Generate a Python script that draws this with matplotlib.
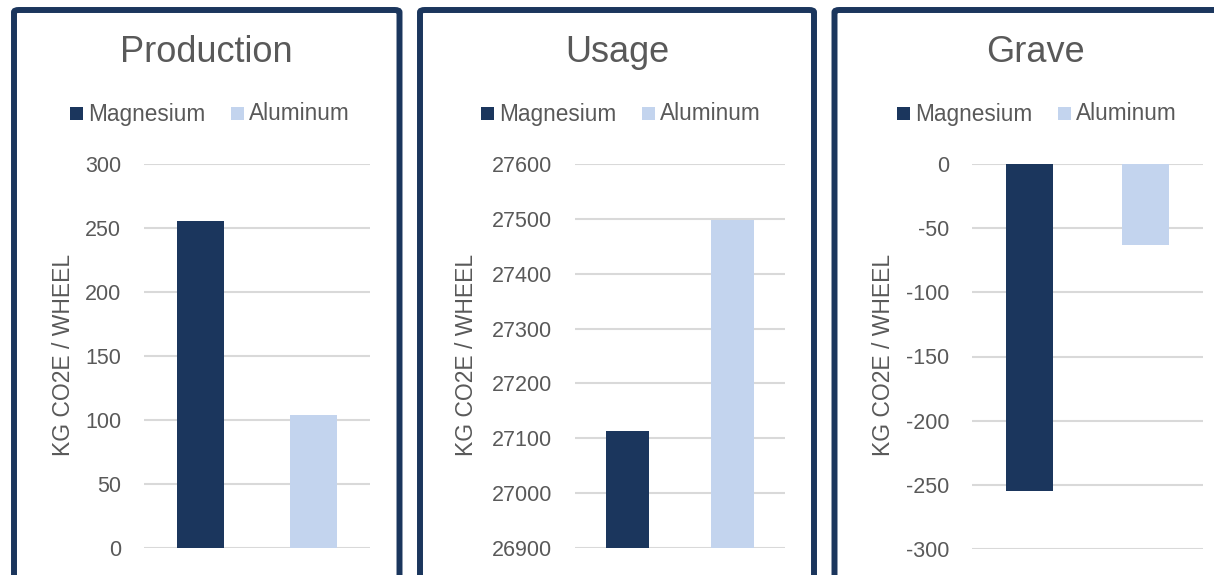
import matplotlib.pyplot as plt
from matplotlib.patches import FancyBboxPatch, Rectangle

plt.rcParams['font.family'] = ['Liberation Sans', 'DejaVu Sans']

W, H = 1214, 575

panel_titles = ["Production", "Usage", "Grave"]
series_names = ["Magnesium", "Aluminum"]
magnesium = [255.5, 27113, -255]
aluminum = [104, 27498, -63]
y_ranges = [(0, 300), (26900, 27600), (-300, 0)]
y_steps = [50, 100, 50]
y_label = "KG CO2E / WHEEL"

navy = "#1b365d"
light = "#c3d4ee"
text_gray = "#595959"
grid_gray = "#d9d9d9"

# pixel layout of each panel (left, right of border; axes box; legend squares)
borders = [(14, 399.5), (420, 814), (834.5, 1240)]
axes_px = [(144, 370, 164, 548), (575, 785, 164, 548), (972, 1203, 164, 549)]
title_x = [206, 617, 1035]
ylabel_x = [64, 467, 884]
legend_sq = [(70, 231), (481, 642), (897, 1058)]

fig = plt.figure(figsize=(W / 100, H / 100), dpi=100)


def fx(px):
    return px / W


def fy(py):
    return 1 - py / H


for i in range(3):
    l, r = borders[i]
    box = FancyBboxPatch((fx(l), fy(600)), fx(r - l), (600 - 10) / H,
                         boxstyle="round,pad=0,rounding_size=0.004",
                         transform=fig.transFigure, facecolor="white",
                         edgecolor=navy, linewidth=4.3, zorder=-1)
    fig.patches.append(box)

    x0, x1, y0, y1 = axes_px[i]
    ax = fig.add_axes([fx(x0), fy(y1), fx(x1 - x0), (y1 - y0) / H], zorder=1)
    ax.set_facecolor("none")
    vals = [magnesium[i], aluminum[i]]
    lo, hi = y_ranges[i]
    base = lo if i == 1 else 0  # usage axis does not start at zero
    ax.bar([0, 1], [v - base for v in vals], bottom=base, width=0.41,
           color=[navy, light], zorder=3)
    ax.set_xlim(-0.5, 1.5)
    ax.set_ylim(lo, hi)
    ticks = list(range(lo, hi + 1, y_steps[i]))
    ax.set_yticks(ticks)
    ax.set_yticklabels([str(t) for t in ticks], fontsize=15.5, color=text_gray)
    ax.tick_params(axis="y", length=0, pad=16.5)
    ax.set_xticks([])
    ax.grid(axis="y", color=grid_gray, linewidth=1.5, zorder=0)
    for s in ax.spines.values():
        s.set_visible(False)

    fig.text(fx(title_x[i]), fy(53), panel_titles[i], fontsize=26,
             color=text_gray, ha="center", va="center")
    fig.text(fx(ylabel_x[i]), fy(355), y_label, fontsize=16.5,
             color=text_gray, ha="center", va="center", rotation=90)

    for k, name in enumerate(series_names):
        sx = legend_sq[i][k]
        fig.patches.append(Rectangle((fx(sx), fy(120)), fx(13), 13 / H,
                                     transform=fig.transFigure,
                                     facecolor=[navy, light][k], edgecolor="none"))
        fig.text(fx(sx + 18), fy(114), name, fontsize=16.3, color=text_gray,
                 ha="left", va="center")

fig.savefig("out.png", dpi=100, facecolor="white")
